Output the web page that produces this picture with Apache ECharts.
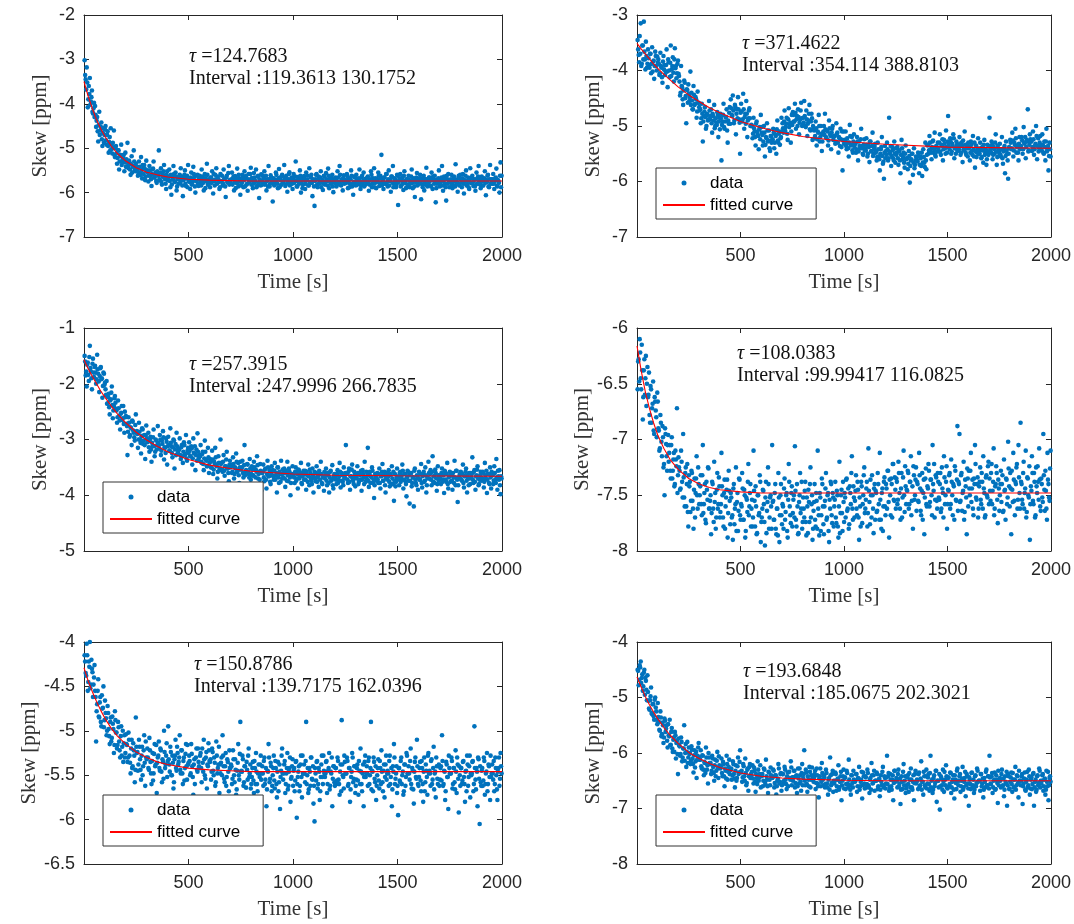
<!DOCTYPE html>
<html><head><meta charset="utf-8">
<script src="https://cdn.jsdelivr.net/npm/echarts@6/dist/echarts.min.js"></script>
<style>html,body{margin:0;padding:0;background:#fff}#c{width:1074px;height:924px}</style>
</head><body><div id="c"></div>
<script>
// sampling of the skew series: set A one value every DT s from T0, set B every DT s from T0B
const T0 = 3, T0B = 5.5, DT = 5;

const skew1 = [
-3.02,-3.45,-3.18,-4.08,-3.60,-3.42,-3.95,-3.70,-4.22,-3.98,
-4.05,-4.52,-4.30,-4.85,-4.18,-4.60,-4.42,-4.95,-4.55,-4.70,
-4.50,-4.92,-4.62,-5.10,-4.75,-4.55,-5.02,-4.88,-4.60,-5.20,
-4.95,-5.35,-5.05,-5.48,-5.15,-4.92,-5.30,-5.22,-5.52,-5.10,
-5.25,-4.88,-5.45,-5.32,-5.60,-5.18,-5.40,-5.05,-5.50,-5.35,
-5.42,-5.62,-5.30,-5.55,-5.20,-5.68,-5.45,-5.38,-5.72,-5.28,
-5.50,-5.75,-5.40,-5.62,-5.85,-5.48,-5.30,-5.66,-5.55,-5.78,
-5.58,-5.05,-5.72,-5.45,-5.82,-5.60,-5.38,-5.70,-5.92,-5.52,
-5.65,-5.48,-5.88,-6.05,-5.62,-5.40,-5.75,-5.55,-5.95,-5.70,
-5.80,-5.60,-5.45,-5.72,-6.08,-5.66,-5.50,-5.85,-5.62,-5.38,
-5.70,-5.92,-5.55,-5.78,-5.42,-5.65,-6.00,-5.74,-5.60,-5.85,
-5.62,-5.80,-5.48,-5.72,-5.95,-5.58,-5.68,-5.35,-5.82,-5.76,
-5.88,-5.66,-5.52,-6.02,-5.74,-5.60,-5.45,-5.79,-5.70,-5.92,
-5.58,-5.75,-5.84,-5.48,-5.69,-6.10,-5.62,-5.77,-5.40,-5.72,
-5.80,-5.55,-5.70,-5.95,-5.63,-5.78,-5.46,-5.86,-5.68,-6.05,
-5.74,-5.60,-5.88,-5.52,-5.66,-5.82,-5.96,-5.58,-5.71,-5.44,
-5.67,-5.90,-5.56,-5.76,-5.48,-5.84,-5.62,-6.12,-5.73,-5.59,
-5.82,-5.64,-5.52,-5.78,-5.95,-5.70,-5.40,-5.86,-5.61,-5.75,
-6.20,-5.68,-5.80,-5.55,-5.72,-5.90,-5.47,-5.66,-5.83,-5.60,
-5.76,-5.38,-5.85,-5.62,-5.98,-5.70,-5.54,-5.80,-5.66,-5.92,
-5.58,-5.74,-5.30,-5.86,-5.65,-5.78,-5.50,-6.00,-5.69,-5.82,
-5.63,-5.92,-5.55,-5.71,-5.84,-5.45,-5.77,-5.60,-6.08,-5.72,
-6.30,-5.70,-5.58,-5.88,-5.64,-5.80,-5.52,-5.75,-5.94,-5.62,
-5.82,-5.56,-5.74,-5.46,-5.90,-5.68,-5.79,-5.60,-5.99,-5.72,
-5.66,-5.86,-5.52,-5.76,-5.40,-5.83,-5.70,-5.95,-5.61,-5.78,
-5.74,-5.58,-5.90,-5.68,-5.80,-5.50,-5.86,-6.05,-5.64,-5.76,
-5.60,-5.82,-5.70,-5.48,-5.92,-5.66,-5.78,-5.55,-5.84,-5.69,
-5.80,-5.64,-5.96,-5.72,-5.52,-5.88,-5.68,-5.45,-5.78,-5.90,
-5.70,-5.55,-5.85,-5.62,-5.15,-5.76,-5.92,-5.66,-5.80,-5.58,
-5.86,-5.50,-5.74,-5.98,-5.64,-5.40,-5.80,-5.70,-5.88,-5.60,
-6.28,-5.72,-5.58,-5.84,-5.66,-5.94,-5.52,-5.78,-5.70,-5.85,
-5.62,-5.88,-5.76,-5.48,-5.90,-5.68,-6.10,-5.74,-5.56,-5.82,
-5.74,-5.60,-6.15,-5.82,-5.66,-5.95,-5.70,-5.44,-5.86,-5.78,
-5.66,-5.84,-5.55,-5.92,-5.72,-5.62,-6.22,-5.80,-5.70,-5.50,
-5.86,-5.72,-5.40,-5.96,-5.64,-5.80,-6.18,-5.70,-5.58,-5.88,
-5.74,-5.60,-5.90,-5.68,-5.84,-5.36,-5.76,-5.98,-5.62,-5.80,
-5.70,-5.88,-5.58,-6.02,-5.74,-5.50,-5.82,-5.66,-5.92,-5.45,
-5.78,-5.62,-5.85,-5.70,-5.96,-5.55,-5.80,-5.40,-5.72,-5.90,
-5.64,-5.84,-5.72,-5.52,-6.06,-5.76,-5.60,-5.88,-5.38,-5.70,
-5.80,-5.58,-5.92,-5.68,-5.46,-5.86,-5.74,-6.00,-5.32,-5.62
];
const skew1b = [
-3.35,-3.68,-3.52,-3.90,-3.78,-4.02,-3.85,-4.18,-4.10,-4.30,
-4.25,-4.38,-4.62,-4.48,-4.70,-4.52,-4.80,-4.66,-4.88,-4.58,
-4.82,-4.70,-4.95,-4.86,-5.05,-4.92,-5.12,-4.98,-5.15,-5.00,
-5.12,-5.22,-5.05,-5.30,-5.18,-5.38,-5.25,-5.15,-5.32,-5.42,
-5.32,-5.40,-5.28,-5.48,-5.36,-5.55,-5.42,-5.30,-5.52,-5.45,
-5.48,-5.56,-5.42,-5.60,-5.50,-5.38,-5.58,-5.46,-5.64,-5.52,
-5.55,-5.62,-5.50,-5.70,-5.58,-5.46,-5.66,-5.60,-5.74,-5.52,
-5.62,-5.70,-5.55,-5.76,-5.64,-5.52,-5.68,-5.80,-5.60,-5.72,
-5.66,-5.74,-5.60,-5.82,-5.70,-5.58,-5.76,-5.64,-5.86,-5.68,
-5.70,-5.78,-5.64,-5.84,-5.72,-5.60,-5.80,-5.68,-5.88,-5.74,
-5.76,-5.66,-5.82,-5.70,-5.58,-5.86,-5.74,-5.62,-5.80,-5.69,
-5.72,-5.84,-5.64,-5.78,-5.68,-5.90,-5.75,-5.60,-5.82,-5.70,
-5.66,-5.78,-5.72,-5.58,-5.84,-5.70,-5.80,-5.64,-5.76,-5.88,
-5.74,-5.62,-5.80,-5.70,-5.86,-5.66,-5.76,-5.56,-5.82,-5.72,
-5.70,-5.82,-5.64,-5.76,-5.90,-5.68,-5.78,-5.60,-5.74,-5.84,
-5.78,-5.66,-5.72,-5.86,-5.62,-5.80,-5.70,-5.76,-5.58,-5.82,
-5.72,-5.80,-5.66,-5.74,-5.88,-5.64,-5.78,-5.70,-5.84,-5.60,
-5.76,-5.68,-5.82,-5.62,-5.74,-5.86,-5.70,-5.80,-5.66,-5.78,
-5.70,-5.84,-5.74,-5.60,-5.80,-5.68,-5.88,-5.72,-5.64,-5.78,
-5.74,-5.66,-5.82,-5.70,-5.78,-5.58,-5.84,-5.72,-5.80,-5.68,
-5.78,-5.64,-5.74,-5.86,-5.70,-5.80,-5.62,-5.76,-5.90,-5.72,
-5.68,-5.80,-5.72,-5.62,-5.84,-5.76,-5.66,-5.78,-5.70,-5.86,
-5.74,-5.60,-5.82,-5.70,-5.78,-5.66,-5.88,-5.72,-5.80,-5.64,
-5.76,-5.70,-5.84,-5.62,-5.74,-5.80,-5.68,-5.86,-5.72,-5.78,
-5.70,-5.82,-5.66,-5.76,-5.60,-5.84,-5.74,-5.68,-5.80,-5.72,
-5.78,-5.64,-5.74,-5.88,-5.70,-5.62,-5.80,-5.76,-5.66,-5.84,
-5.72,-5.80,-5.68,-5.76,-5.84,-5.62,-5.74,-5.86,-5.70,-5.78,
-5.66,-5.76,-5.82,-5.70,-5.60,-5.80,-5.74,-5.88,-5.68,-5.76,
-5.74,-5.62,-5.78,-5.68,-5.84,-5.72,-5.66,-5.80,-5.58,-5.76,
-5.70,-5.84,-5.72,-5.64,-5.78,-5.88,-5.68,-5.76,-5.82,-5.62,
-5.76,-5.68,-5.86,-5.72,-5.80,-5.62,-5.74,-5.90,-5.70,-5.82,
-5.72,-5.80,-5.64,-5.78,-5.70,-5.86,-5.76,-5.66,-5.84,-5.74,
-5.68,-5.78,-5.72,-5.88,-5.62,-5.76,-5.82,-5.70,-5.80,-5.66,
-5.74,-5.86,-5.70,-5.64,-5.80,-5.72,-5.90,-5.76,-5.68,-5.82,
-5.78,-5.66,-5.84,-5.74,-5.70,-5.88,-5.62,-5.80,-5.72,-5.76,
-5.70,-5.82,-5.76,-5.64,-5.86,-5.72,-5.78,-5.68,-5.84,-5.60,
-5.76,-5.68,-5.80,-5.72,-5.62,-5.84,-5.74,-5.88,-5.70,-5.78,
-5.66,-5.78,-5.72,-5.86,-5.70,-5.80,-5.64,-5.76,-5.82,-5.68,
-5.74,-5.84,-5.68,-5.78,-5.72,-5.62,-5.86,-5.70,-5.80,-5.76,
-5.70,-5.80,-5.74,-5.66,-5.84,-5.72,-5.78,-5.62,-5.88,-5.68
];
const skew2 = [
-3.45,-3.72,-3.38,-3.15,-3.88,-3.55,-3.12,-3.80,-3.48,-3.95,
-3.62,-3.90,-3.70,-4.05,-3.58,-3.84,-4.15,-3.66,-3.92,-3.75,
-3.80,-4.08,-3.68,-3.95,-4.22,-3.74,-3.90,-4.02,-3.62,-4.30,
-3.85,-4.12,-3.55,-3.98,-3.76,-4.20,-3.60,-3.92,-4.05,-3.82,
-4.10,-4.45,-3.92,-4.30,-4.62,-4.18,-4.50,-4.95,-4.35,-4.25,
-4.55,-4.02,-4.40,-4.70,-4.28,-4.62,-4.48,-4.85,-4.38,-4.58,
-4.72,-4.95,-4.60,-5.28,-4.82,-4.66,-5.05,-4.78,-4.90,-4.55,
-4.88,-4.70,-5.12,-4.82,-4.62,-5.00,-4.94,-4.75,-5.20,-4.85,
-4.78,-5.62,-4.92,-4.60,-5.05,-4.84,-4.70,-5.30,-4.96,-4.66,
-4.52,-4.80,-4.45,-4.95,-4.62,-5.15,-4.70,-4.48,-4.88,-5.50,
-4.60,-4.92,-4.42,-5.05,-4.78,-4.55,-5.20,-4.86,-4.68,-5.00,
-4.98,-5.22,-4.85,-5.10,-5.35,-4.92,-5.15,-5.42,-5.02,-4.80,
-5.12,-5.35,-5.00,-5.55,-5.20,-4.95,-5.28,-5.08,-5.45,-5.18,
-5.25,-5.05,-5.40,-5.15,-5.50,-4.90,-5.30,-5.10,-5.22,-4.85,
-4.95,-5.12,-4.72,-5.02,-4.85,-5.25,-4.68,-4.98,-5.30,-4.80,
-4.75,-4.92,-4.60,-5.05,-4.82,-4.70,-5.15,-4.88,-4.58,-5.00,
-4.85,-4.55,-5.00,-4.72,-5.18,-4.90,-4.62,-5.08,-4.78,-5.25,
-5.05,-5.22,-4.92,-5.35,-5.10,-4.80,-5.28,-5.00,-5.45,-5.15,
-5.00,-4.78,-5.20,-5.08,-5.35,-4.90,-5.15,-5.42,-5.05,-5.25,
-5.18,-5.32,-4.95,-5.12,-5.48,-5.22,-5.05,-5.38,-5.80,-5.10,
-5.25,-5.10,-5.42,-5.30,-5.55,-4.98,-5.35,-5.20,-5.48,-5.15,
-5.32,-5.48,-5.20,-5.62,-5.28,-5.40,-5.05,-5.36,-5.52,-5.24,
-5.40,-5.22,-5.55,-5.34,-5.65,-5.28,-5.45,-5.12,-5.50,-5.38,
-5.48,-5.62,-5.30,-5.55,-5.80,-5.42,-5.20,-5.68,-5.95,-5.36,
-5.45,-5.30,-5.62,-4.85,-5.50,-5.72,-5.38,-5.58,-5.28,-5.66,
-5.52,-5.38,-5.70,-5.45,-5.85,-5.25,-5.60,-5.48,-5.75,-5.35,
-5.58,-5.78,-5.45,-6.02,-5.62,-5.50,-5.88,-5.40,-5.70,-5.55,
-5.62,-5.48,-5.85,-5.55,-5.72,-5.90,-5.42,-5.66,-5.30,-5.78,
-5.35,-5.50,-5.18,-5.42,-5.60,-5.28,-5.48,-5.12,-5.55,-5.38,
-5.30,-5.46,-5.15,-5.52,-5.36,-5.62,-5.25,-5.40,-5.08,-5.48,
-4.82,-5.38,-5.22,-5.50,-5.32,-5.15,-5.58,-5.40,-5.28,-5.45,
-5.36,-5.20,-5.52,-5.30,-5.65,-5.42,-5.10,-5.48,-5.34,-5.55,
-5.40,-5.62,-5.28,-5.45,-5.18,-5.55,-5.75,-5.35,-5.48,-5.22,
-5.45,-5.30,-5.58,-5.38,-5.66,-5.25,-5.48,-5.70,-5.34,-5.52,
-4.85,-5.42,-5.28,-5.60,-5.38,-5.50,-5.15,-5.70,-5.35,-5.46,
-5.32,-5.55,-5.20,-5.68,-5.40,-5.85,-5.28,-5.50,-5.95,-5.38,
-5.25,-5.42,-5.12,-5.55,-5.30,-5.05,-5.48,-5.35,-5.62,-5.20,
-5.38,-5.20,-5.50,-5.02,-5.32,-5.58,-5.25,-4.70,-5.44,-5.15,
-5.28,-5.45,-5.10,-5.52,-5.35,-5.00,-5.60,-5.22,-5.40,-5.18,
-5.35,-5.15,-5.48,-5.28,-5.62,-5.05,-5.42,-5.80,-5.30,-5.55
];
const skew2b = [
-3.62,-3.85,-3.70,-3.92,-3.55,-3.80,-3.66,-3.98,-3.74,-3.88,
-3.78,-3.95,-3.70,-3.88,-4.02,-3.82,-3.92,-3.74,-4.00,-3.86,
-3.88,-4.05,-3.92,-4.12,-3.84,-3.98,-4.08,-3.90,-4.02,-3.80,
-4.00,-3.86,-4.10,-3.92,-4.04,-3.80,-3.96,-4.14,-3.88,-4.06,
-4.20,-4.40,-4.28,-4.52,-4.36,-4.22,-4.46,-4.34,-4.58,-4.42,
-4.48,-4.62,-4.54,-4.70,-4.44,-4.60,-4.52,-4.74,-4.58,-4.66,
-4.70,-4.86,-4.78,-4.92,-4.74,-4.84,-5.00,-4.80,-4.88,-4.72,
-4.82,-4.95,-4.78,-4.90,-5.04,-4.86,-4.98,-4.80,-4.92,-5.06,
-4.86,-4.98,-4.80,-5.02,-4.92,-4.84,-5.08,-4.90,-4.76,-4.96,
-4.68,-4.82,-4.72,-4.90,-4.66,-4.78,-4.86,-4.70,-4.94,-4.76,
-4.74,-4.88,-4.70,-4.84,-4.96,-4.78,-4.90,-4.72,-4.86,-5.00,
-5.00,-5.14,-5.04,-5.20,-4.96,-5.10,-5.18,-5.06,-5.24,-5.02,
-5.16,-5.28,-5.12,-5.34,-5.22,-5.08,-5.26,-5.40,-5.18,-5.30,
-5.24,-5.12,-5.30,-5.18,-5.06,-5.26,-5.14,-5.34,-5.20,-5.10,
-5.04,-4.92,-5.08,-4.96,-5.14,-4.88,-5.02,-4.94,-5.10,-4.98,
-4.80,-4.92,-4.76,-4.88,-5.00,-4.84,-4.94,-4.72,-4.86,-4.98,
-4.94,-4.82,-5.02,-4.88,-4.96,-4.78,-5.06,-4.92,-4.86,-5.00,
-5.08,-5.18,-5.04,-5.24,-5.12,-5.00,-5.20,-5.14,-5.28,-5.10,
-5.16,-5.06,-5.22,-5.10,-5.26,-5.04,-5.18,-5.12,-5.00,-5.20,
-5.18,-5.28,-5.14,-5.30,-5.20,-5.36,-5.24,-5.10,-5.26,-5.32,
-5.26,-5.36,-5.22,-5.40,-5.30,-5.18,-5.34,-5.44,-5.28,-5.38,
-5.32,-5.42,-5.28,-5.46,-5.36,-5.24,-5.40,-5.50,-5.34,-5.44,
-5.44,-5.34,-5.50,-5.38,-5.28,-5.46,-5.36,-5.54,-5.42,-5.32,
-5.46,-5.56,-5.42,-5.60,-5.50,-5.38,-5.54,-5.64,-5.48,-5.58,
-5.52,-5.42,-5.58,-5.46,-5.36,-5.54,-5.44,-5.62,-5.50,-5.40,
-5.48,-5.58,-5.44,-5.62,-5.52,-5.40,-5.56,-5.66,-5.50,-5.60,
-5.58,-5.68,-5.54,-5.72,-5.60,-5.50,-5.66,-5.76,-5.62,-5.56,
-5.64,-5.54,-5.70,-5.58,-5.48,-5.66,-5.56,-5.74,-5.62,-5.52,
-5.34,-5.44,-5.30,-5.48,-5.38,-5.26,-5.42,-5.52,-5.36,-5.46,
-5.40,-5.30,-5.46,-5.34,-5.24,-5.42,-5.32,-5.50,-5.38,-5.28,
-5.32,-5.42,-5.28,-5.46,-5.36,-5.22,-5.40,-5.50,-5.34,-5.44,
-5.42,-5.32,-5.48,-5.36,-5.26,-5.44,-5.34,-5.52,-5.40,-5.30,
-5.38,-5.48,-5.34,-5.52,-5.42,-5.30,-5.46,-5.56,-5.40,-5.50,
-5.50,-5.40,-5.56,-5.44,-5.34,-5.52,-5.42,-5.60,-5.46,-5.36,
-5.38,-5.48,-5.34,-5.52,-5.42,-5.30,-5.46,-5.56,-5.40,-5.50,
-5.52,-5.42,-5.58,-5.46,-5.36,-5.54,-5.44,-5.62,-5.50,-5.40,
-5.30,-5.40,-5.26,-5.44,-5.34,-5.22,-5.38,-5.48,-5.32,-5.42,
-5.36,-5.26,-5.42,-5.30,-5.20,-5.38,-5.28,-5.46,-5.34,-5.24,
-5.28,-5.38,-5.24,-5.42,-5.32,-5.18,-5.36,-5.46,-5.30,-5.40,
-5.44,-5.34,-5.50,-5.38,-5.28,-5.46,-5.36,-5.54,-5.42,-5.32
];
const skew3 = [
-1.50,-1.85,-2.05,-1.62,-1.95,-1.32,-1.78,-2.10,-1.55,-1.88,
-1.68,-2.00,-1.48,-1.82,-2.15,-1.72,-1.92,-2.25,-1.80,-2.02,
-2.10,-1.95,-2.35,-2.18,-2.55,-2.28,-2.05,-2.62,-2.40,-2.22,
-2.45,-2.70,-2.30,-2.58,-2.82,-2.52,-2.65,-2.40,-2.88,-2.60,
-2.72,-3.28,-2.60,-2.95,-2.78,-3.10,-2.68,-2.88,-3.02,-2.55,
-2.85,-3.15,-2.70,-3.00,-3.25,-2.80,-3.08,-2.92,-3.35,-2.75,
-3.05,-2.88,-3.22,-2.95,-3.40,-3.12,-2.82,-3.30,-3.00,-3.18,
-2.76,-3.10,-2.92,-3.28,-3.02,-2.85,-3.36,-3.15,-2.98,-3.45,
-2.95,-3.20,-2.80,-3.12,-3.32,-3.00,-3.52,-3.08,-2.88,-3.25,
-3.18,-2.98,-3.35,-3.10,-3.42,-3.05,-3.28,-2.92,-3.38,-3.15,
-3.05,-3.30,-3.12,-3.45,-2.98,-3.25,-3.55,-3.18,-2.89,-3.35,
-3.28,-3.10,-3.42,-3.22,-3.55,-3.02,-3.36,-3.48,-3.15,-3.60,
-3.35,-3.50,-3.20,-3.62,-3.40,-3.15,-3.45,-3.70,-3.30,-3.55,
-3.00,-3.42,-3.58,-3.28,-3.65,-3.48,-3.22,-3.52,-3.75,-3.38,
-3.45,-3.60,-3.32,-3.70,-3.50,-3.25,-3.58,-3.42,-3.78,-3.40,
-3.52,-3.38,-3.68,-3.10,-3.58,-3.82,-3.45,-3.62,-3.35,-3.72,
-3.48,-3.65,-3.40,-3.85,-3.55,-3.30,-3.70,-3.58,-3.44,-3.92,
-3.60,-3.45,-3.75,-3.52,-3.88,-3.38,-3.66,-3.55,-3.80,-3.48,
-3.55,-3.72,-3.42,-3.65,-3.95,-3.50,-3.78,-3.62,-3.38,-3.70,
-3.68,-3.52,-3.85,-3.60,-3.40,-3.75,-3.58,-4.00,-3.65,-3.48,
-3.62,-3.78,-3.50,-3.70,-3.88,-3.55,-3.66,-3.42,-3.80,-3.60,
-3.72,-3.56,-3.90,-3.64,-3.45,-3.82,-3.60,-3.74,-3.52,-3.95,
-3.58,-3.75,-3.48,-3.68,-3.85,-3.62,-3.40,-3.78,-3.66,-3.92,
-3.70,-3.52,-3.82,-3.64,-3.95,-3.58,-3.74,-3.46,-3.88,-3.62,
-3.66,-3.80,-3.55,-3.72,-3.42,-3.86,-3.60,-3.76,-3.50,-3.68,
-3.10,-3.62,-3.78,-3.52,-3.90,-3.66,-3.45,-3.74,-3.58,-3.84,
-3.64,-3.48,-3.80,-3.60,-3.72,-3.92,-3.55,-3.68,-3.40,-3.76,
-3.70,-3.15,-3.85,-3.58,-3.66,-3.50,-3.78,-4.05,-3.62,-3.74,
-3.60,-3.78,-3.52,-3.88,-3.66,-3.44,-3.74,-3.58,-3.95,-3.68,
-3.72,-3.55,-3.84,-3.64,-3.48,-3.80,-4.10,-3.62,-3.76,-3.52,
-3.66,-3.82,-3.58,-3.70,-3.45,-3.88,-3.62,-3.75,-4.02,-3.56,
-3.74,-4.15,-3.60,-3.84,-3.68,-4.20,-3.52,-3.78,-3.64,-3.90,
-3.58,-3.72,-3.44,-3.86,-3.62,-3.76,-3.50,-3.95,-3.68,-3.40,
-3.70,-3.55,-3.82,-3.30,-3.66,-3.78,-3.60,-3.92,-3.48,-3.74,
-3.64,-3.80,-3.52,-3.72,-3.96,-3.58,-3.76,-3.42,-3.88,-3.66,
-3.76,-3.60,-3.90,-3.68,-3.38,-3.82,-3.56,-4.12,-3.70,-3.62,
-3.58,-3.74,-3.45,-3.86,-3.66,-3.52,-3.95,-3.70,-3.60,-3.80,
-3.68,-3.32,-3.78,-3.55,-3.90,-3.64,-3.48,-3.82,-3.72,-3.58,
-3.74,-3.58,-3.86,-3.42,-3.70,-3.96,-3.62,-3.78,-3.50,-3.88,
-3.62,-3.80,-3.48,-3.72,-3.35,-3.90,-3.66,-3.55,-3.98,-3.70
];
const skew3b = [
-1.60,-1.78,-1.66,-1.84,-1.52,-1.72,-1.90,-1.64,-1.80,-1.70,
-1.80,-1.92,-1.74,-1.96,-1.86,-1.70,-1.90,-2.04,-1.82,-1.98,
-2.20,-2.36,-2.24,-2.42,-2.30,-2.16,-2.38,-2.48,-2.26,-2.34,
-2.48,-2.60,-2.44,-2.66,-2.54,-2.40,-2.62,-2.72,-2.50,-2.58,
-2.76,-2.86,-2.70,-2.92,-2.80,-2.66,-2.84,-2.96,-2.74,-2.88,
-2.90,-3.00,-2.86,-3.06,-2.94,-2.82,-3.02,-3.10,-2.92,-2.98,
-3.04,-3.14,-3.00,-3.18,-3.06,-2.96,-3.12,-3.22,-3.02,-3.10,
-3.06,-3.16,-3.00,-3.20,-3.08,-2.96,-3.14,-3.24,-3.04,-3.12,
-3.10,-3.20,-3.06,-3.24,-3.14,-3.02,-3.18,-3.28,-3.12,-3.22,
-3.18,-3.28,-3.14,-3.30,-3.22,-3.10,-3.26,-3.34,-3.20,-3.24,
-3.20,-3.30,-3.16,-3.34,-3.24,-3.12,-3.28,-3.38,-3.22,-3.32,
-3.30,-3.40,-3.26,-3.44,-3.34,-3.22,-3.38,-3.48,-3.32,-3.42,
-3.40,-3.50,-3.36,-3.54,-3.44,-3.32,-3.48,-3.58,-3.42,-3.52,
-3.44,-3.54,-3.40,-3.56,-3.48,-3.36,-3.52,-3.60,-3.46,-3.50,
-3.48,-3.58,-3.44,-3.62,-3.52,-3.40,-3.56,-3.64,-3.50,-3.54,
-3.50,-3.60,-3.46,-3.64,-3.55,-3.44,-3.58,-3.68,-3.52,-3.62,
-3.54,-3.64,-3.50,-3.68,-3.58,-3.46,-3.62,-3.72,-3.56,-3.60,
-3.58,-3.68,-3.54,-3.72,-3.62,-3.50,-3.66,-3.76,-3.60,-3.64,
-3.66,-3.56,-3.72,-3.60,-3.50,-3.68,-3.58,-3.76,-3.62,-3.54,
-3.60,-3.70,-3.56,-3.74,-3.64,-3.52,-3.68,-3.78,-3.62,-3.66,
-3.68,-3.58,-3.74,-3.62,-3.54,-3.70,-3.60,-3.78,-3.66,-3.56,
-3.62,-3.72,-3.58,-3.76,-3.66,-3.54,-3.70,-3.80,-3.64,-3.68,
-3.70,-3.60,-3.76,-3.64,-3.56,-3.72,-3.62,-3.80,-3.68,-3.58,
-3.64,-3.74,-3.60,-3.78,-3.68,-3.56,-3.72,-3.82,-3.66,-3.70,
-3.72,-3.62,-3.78,-3.66,-3.58,-3.74,-3.64,-3.82,-3.70,-3.60,
-3.62,-3.72,-3.58,-3.76,-3.66,-3.54,-3.70,-3.80,-3.64,-3.68,
-3.70,-3.60,-3.76,-3.64,-3.56,-3.72,-3.62,-3.80,-3.68,-3.58,
-3.64,-3.74,-3.60,-3.78,-3.68,-3.56,-3.72,-3.82,-3.66,-3.70,
-3.72,-3.62,-3.78,-3.66,-3.58,-3.74,-3.64,-3.82,-3.70,-3.60,
-3.66,-3.76,-3.62,-3.80,-3.70,-3.58,-3.74,-3.84,-3.68,-3.72,
-3.70,-3.60,-3.76,-3.64,-3.56,-3.72,-3.62,-3.80,-3.68,-3.58,
-3.64,-3.74,-3.60,-3.78,-3.68,-3.56,-3.72,-3.82,-3.66,-3.70,
-3.72,-3.62,-3.78,-3.66,-3.58,-3.74,-3.64,-3.82,-3.70,-3.60,
-3.62,-3.72,-3.58,-3.76,-3.66,-3.54,-3.70,-3.80,-3.64,-3.68,
-3.70,-3.60,-3.76,-3.64,-3.56,-3.72,-3.62,-3.80,-3.68,-3.58,
-3.64,-3.74,-3.60,-3.78,-3.68,-3.56,-3.72,-3.82,-3.66,-3.70,
-3.72,-3.62,-3.78,-3.66,-3.58,-3.74,-3.64,-3.82,-3.70,-3.60,
-3.62,-3.72,-3.58,-3.76,-3.66,-3.54,-3.70,-3.80,-3.64,-3.68,
-3.70,-3.60,-3.76,-3.64,-3.56,-3.72,-3.62,-3.80,-3.68,-3.58,
-3.64,-3.74,-3.60,-3.78,-3.68,-3.56,-3.72,-3.82,-3.66,-3.70
];
const skew4 = [
-6.55,-6.28,-6.10,-6.45,-6.15,-6.82,-6.38,-6.60,-6.25,-6.50,
-6.62,-6.40,-6.85,-6.55,-6.72,-6.48,-6.95,-6.66,-6.80,-6.58,
-6.90,-7.10,-6.78,-7.02,-6.88,-7.25,-7.50,-6.95,-7.15,-7.05,
-7.20,-7.05,-7.35,-6.98,-7.28,-7.12,-7.40,-7.18,-6.72,-7.32,
-7.25,-7.45,-7.10,-7.38,-6.95,-7.52,-7.30,-7.60,-7.22,-7.78,
-7.42,-7.65,-7.28,-7.55,-7.80,-7.35,-7.48,-7.15,-7.62,-7.40,
-7.50,-7.32,-7.68,-7.05,-7.58,-7.40,-7.75,-7.45,-7.25,-7.62,
-7.55,-7.85,-7.38,-7.62,-7.20,-7.48,-7.70,-7.30,-7.58,-7.42,
-7.65,-7.12,-7.50,-7.78,-7.36,-7.60,-7.45,-7.88,-7.28,-7.55,
-7.48,-7.70,-7.90,-7.40,-7.62,-7.25,-7.56,-7.82,-7.35,-7.68,
-7.58,-7.30,-7.72,-7.45,-7.88,-7.52,-7.65,-7.22,-7.60,-7.40,
-7.62,-7.78,-7.10,-7.55,-7.42,-7.85,-7.50,-7.68,-7.32,-7.92,
-7.70,-7.45,-7.58,-7.95,-7.38,-7.64,-7.25,-7.80,-7.52,-7.60,
-7.05,-7.55,-7.72,-7.40,-7.85,-7.62,-7.30,-7.92,-7.50,-7.68,
-7.58,-7.80,-7.35,-7.65,-7.48,-7.88,-7.22,-7.60,-7.75,-7.42,
-7.66,-7.50,-7.06,-7.72,-7.40,-7.85,-7.56,-7.30,-7.62,-7.80,
-7.52,-7.70,-7.38,-7.86,-7.60,-7.45,-7.74,-7.25,-7.58,-7.90,
-7.64,-7.40,-7.78,-7.55,-7.10,-7.68,-7.48,-7.82,-7.35,-7.60,
-7.85,-7.55,-7.30,-7.70,-7.48,-7.92,-7.62,-7.40,-7.75,-7.52,
-7.60,-7.38,-7.75,-7.50,-7.88,-7.20,-7.66,-7.45,-7.82,-7.56,
-7.48,-7.70,-7.35,-7.62,-7.80,-7.42,-7.58,-7.15,-7.72,-7.52,
-7.55,-7.32,-7.68,-7.45,-7.90,-7.60,-7.38,-7.75,-7.50,-7.25,
-7.62,-7.44,-7.78,-7.08,-7.56,-7.36,-7.70,-7.50,-7.84,-7.40,
-7.46,-7.65,-7.30,-7.58,-7.12,-7.72,-7.48,-7.82,-7.38,-7.60,
-7.40,-7.62,-7.28,-7.88,-7.50,-7.35,-7.70,-7.22,-7.55,-7.45,
-7.35,-7.58,-7.20,-7.48,-7.72,-7.30,-7.52,-7.10,-7.65,-7.42,
-7.45,-7.28,-7.62,-7.38,-7.15,-7.55,-7.80,-7.32,-7.50,-7.25,
-7.38,-7.55,-7.12,-7.44,-7.68,-7.30,-7.48,-7.85,-7.35,-7.58,
-7.42,-7.22,-7.60,-7.36,-7.50,-7.05,-7.46,-7.70,-7.32,-7.55,
-7.30,-7.52,-7.40,-7.65,-7.25,-7.48,-7.15,-7.58,-7.38,-7.80,
-7.45,-7.32,-7.62,-7.18,-7.50,-7.40,-7.72,-7.28,-7.55,-6.88,
-7.38,-6.95,-7.55,-7.30,-7.48,-7.20,-7.65,-7.42,-7.85,-7.35,
-7.28,-7.50,-7.12,-7.44,-7.62,-7.35,-7.05,-7.52,-7.40,-7.70,
-7.42,-7.25,-7.58,-7.38,-7.15,-7.48,-7.68,-7.32,-7.52,-7.20,
-7.35,-7.55,-7.22,-7.46,-7.08,-7.62,-7.40,-7.30,-7.75,-7.44,
-7.50,-7.28,-7.40,-7.65,-7.18,-7.45,-7.35,-7.58,-7.02,-7.42,
-7.30,-7.85,-7.45,-7.12,-7.55,-7.38,-7.25,-7.62,-7.05,-7.48,
-6.85,-7.40,-7.58,-7.20,-7.48,-7.10,-7.65,-7.35,-7.52,-7.90,
-7.42,-7.15,-7.55,-7.30,-7.70,-7.25,-7.48,-7.38,-7.08,-7.60,
-7.35,-7.52,-6.95,-7.45,-7.28,-7.62,-7.12,-7.40,-7.55,-7.10
];
const skew4b = [
-6.30,-6.48,-6.22,-6.55,-6.38,-6.62,-6.28,-6.45,-6.70,-6.35,
-6.60,-6.78,-6.52,-6.85,-6.68,-6.92,-6.62,-6.74,-6.98,-6.66,
-6.92,-7.08,-6.85,-7.15,-6.98,-7.22,-6.90,-7.04,-7.28,-6.96,
-7.12,-7.28,-7.05,-7.35,-7.18,-7.42,-7.10,-7.24,-7.48,-7.16,
-7.28,-7.44,-7.20,-7.52,-7.34,-7.60,-7.25,-7.40,-7.65,-7.32,
-7.38,-7.55,-7.30,-7.62,-7.45,-7.70,-7.35,-7.50,-7.25,-7.58,
-7.42,-7.58,-7.32,-7.66,-7.48,-7.72,-7.38,-7.54,-7.26,-7.62,
-7.50,-7.66,-7.40,-7.74,-7.56,-7.80,-7.45,-7.62,-7.34,-7.70,
-7.58,-7.42,-7.70,-7.48,-7.80,-7.52,-7.36,-7.66,-7.46,-7.76,
-7.52,-7.68,-7.44,-7.76,-7.58,-7.82,-7.48,-7.64,-7.36,-7.72,
-7.60,-7.44,-7.72,-7.50,-7.82,-7.54,-7.38,-7.68,-7.48,-7.78,
-7.54,-7.70,-7.46,-7.78,-7.60,-7.84,-7.50,-7.66,-7.38,-7.74,
-7.62,-7.46,-7.74,-7.52,-7.84,-7.56,-7.40,-7.70,-7.50,-7.80,
-7.56,-7.72,-7.48,-7.80,-7.62,-7.86,-7.52,-7.68,-7.40,-7.76,
-7.60,-7.44,-7.72,-7.50,-7.82,-7.54,-7.38,-7.68,-7.48,-7.78,
-7.54,-7.70,-7.46,-7.78,-7.60,-7.84,-7.50,-7.66,-7.38,-7.74,
-7.62,-7.46,-7.74,-7.52,-7.84,-7.56,-7.40,-7.70,-7.50,-7.80,
-7.56,-7.72,-7.48,-7.80,-7.62,-7.86,-7.52,-7.68,-7.40,-7.76,
-7.60,-7.44,-7.72,-7.50,-7.82,-7.54,-7.38,-7.68,-7.48,-7.78,
-7.54,-7.70,-7.46,-7.78,-7.60,-7.84,-7.50,-7.66,-7.38,-7.74,
-7.52,-7.36,-7.64,-7.44,-7.76,-7.48,-7.30,-7.62,-7.42,-7.70,
-7.46,-7.62,-7.38,-7.70,-7.52,-7.78,-7.42,-7.58,-7.32,-7.66,
-7.54,-7.38,-7.66,-7.46,-7.76,-7.50,-7.32,-7.62,-7.44,-7.72,
-7.48,-7.64,-7.40,-7.72,-7.54,-7.80,-7.44,-7.60,-7.34,-7.68,
-7.44,-7.28,-7.56,-7.36,-7.68,-7.40,-7.22,-7.54,-7.34,-7.62,
-7.38,-7.54,-7.30,-7.62,-7.44,-7.70,-7.34,-7.50,-7.24,-7.58,
-7.46,-7.30,-7.58,-7.38,-7.68,-7.42,-7.24,-7.54,-7.36,-7.64,
-7.40,-7.56,-7.32,-7.64,-7.46,-7.72,-7.36,-7.52,-7.26,-7.60,
-7.44,-7.28,-7.56,-7.36,-7.68,-7.40,-7.22,-7.54,-7.34,-7.62,
-7.38,-7.54,-7.30,-7.62,-7.44,-7.70,-7.34,-7.50,-7.24,-7.58,
-7.46,-7.30,-7.58,-7.38,-7.68,-7.42,-7.24,-7.54,-7.36,-7.64,
-7.40,-7.56,-7.32,-7.64,-7.46,-7.72,-7.36,-7.52,-7.26,-7.60,
-7.44,-7.28,-7.56,-7.36,-7.68,-7.40,-7.22,-7.54,-7.34,-7.62,
-7.38,-7.54,-7.30,-7.62,-7.44,-7.70,-7.34,-7.50,-7.24,-7.58,
-7.46,-7.30,-7.58,-7.38,-7.68,-7.42,-7.24,-7.54,-7.36,-7.64,
-7.40,-7.56,-7.32,-7.64,-7.46,-7.72,-7.36,-7.52,-7.26,-7.60,
-7.44,-7.28,-7.56,-7.36,-7.68,-7.40,-7.22,-7.54,-7.34,-7.62,
-7.38,-7.54,-7.30,-7.62,-7.44,-7.70,-7.34,-7.50,-7.24,-7.58,
-7.46,-7.30,-7.58,-7.38,-7.68,-7.42,-7.24,-7.54,-7.36,-7.64,
-7.40,-7.56,-7.32,-7.64,-7.46,-7.72,-7.36,-7.52,-7.26,-7.60
];
const skew5 = [
-4.15,-4.35,-4.02,-4.55,-4.22,-4.00,-4.48,-4.30,-4.62,-4.40,
-4.55,-5.12,-4.70,-4.42,-4.85,-4.62,-4.95,-4.75,-4.50,-4.88,
-4.80,-5.05,-4.72,-4.98,-5.15,-4.85,-5.08,-4.92,-5.25,-4.78,
-5.02,-5.20,-4.90,-5.12,-5.30,-4.95,-5.18,-5.35,-5.05,-5.25,
-5.15,-5.35,-5.02,-5.28,-5.48,-5.10,-5.40,-5.22,-5.58,-4.85,
-5.25,-5.45,-5.10,-5.32,-5.55,-5.18,-5.40,-5.05,-5.62,-5.30,
-5.20,-5.42,-5.08,-5.35,-5.60,-5.25,-5.48,-5.15,-5.38,-5.70,
-5.30,-5.12,-5.45,-5.22,-5.58,-5.35,-5.00,-5.42,-5.28,-5.52,
-4.95,-5.38,-5.18,-5.50,-5.28,-5.65,-5.32,-5.10,-5.45,-5.25,
-5.35,-5.05,-5.48,-5.22,-5.60,-5.30,-5.42,-5.15,-5.55,-5.38,
-5.28,-5.50,-5.15,-5.40,-5.72,-5.32,-5.90,-5.20,-5.46,-5.35,
-5.42,-5.25,-5.58,-5.36,-5.10,-5.50,-5.30,-5.65,-5.40,-5.22,
-5.35,-5.55,-5.20,-5.45,-5.30,-5.62,-5.12,-5.48,-5.38,-5.70,
-5.48,-5.30,-5.05,-5.40,-5.58,-5.25,-5.52,-5.35,-5.68,-5.42,
-5.38,-5.60,-5.22,-5.50,-5.32,-5.72,-5.45,-5.15,-5.55,-4.90,
-5.45,-5.28,-5.62,-5.40,-5.78,-5.35,-5.55,-5.20,-5.48,-5.65,
-5.52,-5.35,-5.70,-5.42,-5.25,-5.60,-5.48,-5.82,-5.38,-5.55,
-5.40,-5.62,-5.30,-5.55,-5.85,-5.45,-5.15,-5.58,-5.36,-5.68,
-5.50,-5.28,-5.65,-5.42,-5.75,-5.35,-5.58,-5.88,-5.45,-5.20,
-5.55,-5.38,-5.70,-5.48,-5.25,-5.62,-5.42,-5.80,-5.52,-5.32,
-5.45,-5.68,-5.35,-5.98,-5.52,-5.40,-5.62,-5.28,-5.75,-5.48,
-5.38,-5.58,-4.90,-5.50,-5.70,-5.42,-5.62,-5.30,-5.55,-5.82,
-6.02,-5.48,-5.35,-5.65,-5.42,-5.78,-5.52,-5.28,-5.60,-5.45,
-5.52,-5.35,-5.70,-5.45,-5.25,-5.62,-5.48,-5.85,-5.40,-5.58,
-5.42,-5.60,-5.30,-5.55,-5.72,-5.38,-4.88,-5.50,-5.65,-5.35,
-5.48,-5.30,-5.62,-5.42,-5.80,-5.52,-5.25,-5.58,-5.40,-5.70,
-5.55,-5.38,-5.72,-5.45,-5.20,-5.60,-5.48,-5.85,-5.35,-5.52,
-5.40,-5.62,-5.30,-5.50,-4.90,-5.45,-5.68,-5.35,-5.58,-5.78,
-5.50,-5.32,-5.65,-5.42,-5.22,-5.58,-5.45,-5.75,-5.38,-5.55,
-5.45,-5.62,-5.28,-5.52,-5.85,-5.40,-5.15,-5.60,-5.48,-5.70,
-5.95,-5.42,-5.58,-5.30,-5.50,-5.72,-5.38,-5.62,-5.25,-5.48,
-5.40,-5.55,-5.20,-5.65,-5.45,-5.82,-5.35,-5.52,-5.10,-5.60,
-5.52,-5.35,-5.68,-5.42,-5.80,-5.30,-5.58,-5.45,-5.72,-5.25,
-5.45,-5.62,-5.32,-5.55,-5.18,-5.48,-5.75,-5.40,-5.60,-5.38,
-5.55,-5.40,-5.05,-5.62,-5.45,-5.78,-5.35,-5.52,-5.88,-5.42,
-5.48,-5.30,-5.65,-5.42,-5.58,-5.22,-5.70,-5.38,-5.92,-5.50,
-5.42,-5.60,-5.35,-5.52,-5.80,-5.45,-5.28,-5.62,-5.40,-5.75,
-5.50,-5.35,-5.68,-4.95,-5.55,-5.42,-5.85,-5.32,-6.05,-5.58,
-5.45,-5.62,-5.30,-5.72,-5.48,-5.25,-5.60,-5.40,-5.78,-5.52,
-5.38,-5.55,-5.68,-5.30,-5.50,-5.78,-5.42,-5.62,-5.25,-5.48
];
const skew5b = [
-4.22,-4.38,-4.15,-4.45,-4.28,-4.52,-4.20,-4.34,-4.48,-4.26,
-4.62,-4.78,-4.55,-4.84,-4.68,-4.90,-4.60,-4.74,-4.96,-4.66,
-4.86,-5.00,-4.80,-5.06,-4.90,-5.12,-4.84,-4.98,-5.16,-4.88,
-5.02,-5.16,-4.96,-5.22,-5.06,-5.28,-5.00,-5.14,-5.30,-5.04,
-5.16,-5.30,-5.10,-5.36,-5.20,-5.42,-5.14,-5.28,-5.44,-5.18,
-5.24,-5.38,-5.18,-5.44,-5.28,-5.50,-5.22,-5.36,-5.12,-5.32,
-5.30,-5.44,-5.22,-5.48,-5.34,-5.56,-5.26,-5.40,-5.16,-5.36,
-5.28,-5.42,-5.20,-5.46,-5.32,-5.54,-5.24,-5.38,-5.14,-5.34,
-5.32,-5.46,-5.24,-5.50,-5.36,-5.58,-5.28,-5.42,-5.18,-5.38,
-5.30,-5.44,-5.22,-5.48,-5.34,-5.56,-5.26,-5.40,-5.16,-5.36,
-5.34,-5.48,-5.26,-5.52,-5.38,-5.60,-5.30,-5.44,-5.20,-5.40,
-5.28,-5.42,-5.20,-5.46,-5.32,-5.54,-5.24,-5.38,-5.14,-5.34,
-5.32,-5.46,-5.24,-5.50,-5.36,-5.58,-5.28,-5.42,-5.18,-5.38,
-5.36,-5.50,-5.28,-5.54,-5.40,-5.62,-5.32,-5.46,-5.22,-5.42,
-5.40,-5.54,-5.32,-5.58,-5.44,-5.66,-5.36,-5.50,-5.26,-5.46,
-5.46,-5.32,-5.58,-5.40,-5.64,-5.44,-5.28,-5.52,-5.38,-5.60,
-5.42,-5.56,-5.34,-5.60,-5.46,-5.68,-5.38,-5.52,-5.28,-5.48,
-5.48,-5.34,-5.60,-5.42,-5.66,-5.46,-5.30,-5.54,-5.40,-5.62,
-5.42,-5.56,-5.34,-5.60,-5.46,-5.68,-5.38,-5.52,-5.28,-5.48,
-5.48,-5.34,-5.60,-5.42,-5.66,-5.46,-5.30,-5.54,-5.40,-5.62,
-5.42,-5.56,-5.34,-5.60,-5.46,-5.68,-5.38,-5.52,-5.28,-5.48,
-5.48,-5.34,-5.60,-5.42,-5.66,-5.46,-5.30,-5.54,-5.40,-5.62,
-5.42,-5.56,-5.34,-5.60,-5.46,-5.68,-5.38,-5.52,-5.28,-5.48,
-5.48,-5.34,-5.60,-5.42,-5.66,-5.46,-5.30,-5.54,-5.40,-5.62,
-5.42,-5.56,-5.34,-5.60,-5.46,-5.68,-5.38,-5.52,-5.28,-5.48,
-5.48,-5.34,-5.60,-5.42,-5.66,-5.46,-5.30,-5.54,-5.40,-5.62,
-5.42,-5.56,-5.34,-5.60,-5.46,-5.68,-5.38,-5.52,-5.28,-5.48,
-5.48,-5.34,-5.60,-5.42,-5.66,-5.46,-5.30,-5.54,-5.40,-5.62,
-5.42,-5.56,-5.34,-5.60,-5.46,-5.68,-5.38,-5.52,-5.28,-5.48,
-5.48,-5.34,-5.60,-5.42,-5.66,-5.46,-5.30,-5.54,-5.40,-5.62,
-5.42,-5.56,-5.34,-5.60,-5.46,-5.68,-5.38,-5.52,-5.28,-5.48,
-5.48,-5.34,-5.60,-5.42,-5.66,-5.46,-5.30,-5.54,-5.40,-5.62,
-5.42,-5.56,-5.34,-5.60,-5.46,-5.68,-5.38,-5.52,-5.28,-5.48,
-5.48,-5.34,-5.60,-5.42,-5.66,-5.46,-5.30,-5.54,-5.40,-5.62,
-5.42,-5.56,-5.34,-5.60,-5.46,-5.68,-5.38,-5.52,-5.28,-5.48,
-5.48,-5.34,-5.60,-5.42,-5.66,-5.46,-5.30,-5.54,-5.40,-5.62,
-5.42,-5.56,-5.34,-5.60,-5.46,-5.68,-5.38,-5.52,-5.28,-5.48,
-5.48,-5.34,-5.60,-5.42,-5.66,-5.46,-5.30,-5.54,-5.40,-5.62,
-5.42,-5.56,-5.34,-5.60,-5.46,-5.68,-5.38,-5.52,-5.28,-5.48,
-5.48,-5.34,-5.60,-5.42,-5.66,-5.46,-5.30,-5.54,-5.40,-5.62
];
const skew6 = [
-4.50,-4.78,-4.42,-4.35,-4.65,-4.88,-4.55,-4.95,-4.70,-5.05,
-4.90,-5.20,-5.05,-4.82,-5.30,-5.12,-5.40,-5.00,-5.25,-5.48,
-5.35,-5.58,-5.25,-5.70,-5.45,-5.82,-5.38,-5.62,-5.50,-5.90,
-5.68,-5.40,-5.85,-5.55,-5.98,-5.72,-5.62,-6.10,-5.78,-6.38,
-5.85,-6.05,-5.72,-6.15,-5.92,-5.50,-6.00,-6.25,-5.80,-6.08,
-6.02,-6.20,-5.88,-6.10,-6.35,-5.95,-6.15,-6.45,-6.05,-5.82,
-6.12,-5.95,-6.28,-6.05,-6.40,-6.18,-5.90,-6.30,-6.55,-6.08,
-6.20,-6.38,-6.05,-6.25,-6.50,-6.12,-6.32,-5.98,-6.45,-6.22,
-6.28,-6.10,-6.42,-6.20,-6.60,-6.32,-6.05,-6.48,-6.25,-6.38,
-6.30,-6.48,-6.15,-6.38,-6.62,-6.22,-6.45,-6.08,-6.35,-5.95,
-6.35,-6.52,-6.20,-6.42,-6.10,-6.58,-6.30,-6.68,-6.25,-6.45,
-6.40,-6.22,-6.55,-6.32,-6.70,-6.45,-6.15,-6.50,-6.38,-6.62,
-6.42,-6.60,-6.28,-6.52,-6.12,-6.48,-6.72,-6.35,-6.58,-6.40,
-6.45,-6.30,-6.62,-6.40,-6.75,-6.50,-6.20,-6.55,-6.38,-6.68,
-6.38,-6.55,-6.25,-6.48,-6.65,-6.35,-6.80,-6.45,-6.15,-6.58,
-6.50,-6.32,-6.62,-6.42,-6.72,-6.28,-6.55,-6.40,-6.68,-6.20,
-6.45,-5.95,-6.58,-6.35,-6.70,-6.48,-6.25,-6.62,-6.40,-6.82,
-6.52,-6.38,-6.65,-6.28,-6.55,-6.80,-6.42,-6.60,-6.18,-6.48,
-6.40,-6.62,-6.30,-6.55,-6.75,-6.45,-6.08,-6.58,-6.38,-6.70,
-6.55,-6.35,-6.68,-6.48,-6.22,-6.62,-6.42,-6.85,-6.50,-6.30,
-6.45,-6.65,-6.32,-6.55,-6.12,-6.58,-6.75,-6.40,-6.62,-6.48,
-6.52,-6.38,-6.70,-6.45,-6.25,-6.60,-6.48,-6.82,-6.35,-6.55,
-6.42,-6.62,-6.30,-6.58,-6.72,-6.45,-6.18,-6.55,-6.40,-6.68,
-6.50,-6.35,-6.65,-6.48,-6.78,-6.40,-6.58,-6.25,-6.62,-6.45,
-6.55,-6.05,-6.42,-6.68,-6.38,-6.60,-6.48,-6.85,-6.32,-6.52,
-6.45,-6.62,-6.30,-6.55,-6.92,-6.42,-6.65,-6.20,-6.50,-6.72,
-6.58,-6.40,-6.70,-6.48,-6.28,-6.62,-6.52,-6.85,-6.38,-6.55,
-6.48,-6.65,-6.35,-6.58,-6.15,-6.52,-6.75,-6.42,-6.62,-6.30,
-6.55,-6.38,-6.68,-6.05,-6.50,-6.72,-6.45,-6.60,-6.32,-6.88,
-6.50,-6.62,-7.02,-6.42,-6.58,-6.30,-6.70,-6.48,-6.22,-6.62,
-6.45,-6.60,-6.35,-6.72,-6.52,-6.40,-6.82,-6.48,-6.65,-6.28,
-6.58,-6.42,-6.70,-6.50,-6.25,-6.62,-6.45,-6.78,-6.38,-6.55,
-6.95,-6.48,-6.65,-6.35,-6.58,-6.72,-6.42,-6.60,-6.28,-6.52,
-6.50,-6.68,-6.38,-6.55,-6.80,-6.45,-6.62,-6.30,-6.58,-6.42,
-6.05,-6.55,-6.42,-6.72,-6.50,-6.35,-6.65,-6.48,-6.90,-6.58,
-6.45,-6.62,-6.30,-6.58,-6.78,-6.42,-6.55,-6.95,-6.38,-6.65,
-6.52,-6.35,-6.70,-6.48,-6.62,-6.25,-6.58,-6.42,-6.80,-6.50,
-6.58,-6.42,-6.92,-6.55,-6.35,-6.68,-6.48,-6.62,-6.30,-6.75,
-6.48,-6.65,-6.38,-6.95,-6.52,-6.70,-6.42,-6.58,-6.28,-6.62,
-6.55,-6.40,-6.68,-6.48,-6.75,-6.32,-6.60,-6.85,-6.45,-6.52
];
const skew6b = [
-4.52,-4.68,-4.46,-4.74,-4.58,-4.80,-4.50,-4.64,-4.86,-4.60,
-5.06,-5.22,-4.98,-5.28,-5.12,-5.34,-5.04,-5.18,-5.40,-5.10,
-5.44,-5.60,-5.36,-5.66,-5.50,-5.72,-5.42,-5.56,-5.78,-5.48,
-5.70,-5.86,-5.62,-5.92,-5.76,-5.98,-5.68,-5.82,-6.02,-5.74,
-5.88,-6.02,-5.80,-6.08,-5.92,-6.14,-5.84,-5.98,-6.18,-5.90,
-6.00,-6.14,-5.94,-6.20,-6.04,-6.26,-5.98,-6.12,-5.90,-6.08,
-6.12,-6.24,-6.04,-6.30,-6.16,-6.36,-6.08,-6.22,-6.00,-6.18,
-6.18,-6.32,-6.10,-6.36,-6.22,-6.42,-6.14,-6.28,-6.06,-6.24,
-6.24,-6.36,-6.16,-6.42,-6.28,-6.46,-6.20,-6.34,-6.12,-6.30,
-6.28,-6.40,-6.20,-6.46,-6.32,-6.50,-6.24,-6.38,-6.16,-6.34,
-6.32,-6.44,-6.24,-6.50,-6.36,-6.54,-6.28,-6.42,-6.20,-6.38,
-6.34,-6.46,-6.26,-6.52,-6.38,-6.56,-6.30,-6.44,-6.22,-6.40,
-6.38,-6.50,-6.30,-6.56,-6.42,-6.60,-6.34,-6.48,-6.26,-6.44,
-6.44,-6.32,-6.54,-6.40,-6.60,-6.46,-6.28,-6.52,-6.36,-6.58,
-6.38,-6.50,-6.30,-6.56,-6.42,-6.60,-6.34,-6.48,-6.26,-6.44,
-6.44,-6.32,-6.54,-6.40,-6.60,-6.46,-6.28,-6.52,-6.36,-6.58,
-6.38,-6.50,-6.30,-6.56,-6.42,-6.60,-6.34,-6.48,-6.26,-6.44,
-6.44,-6.32,-6.54,-6.40,-6.60,-6.46,-6.28,-6.52,-6.36,-6.58,
-6.44,-6.56,-6.36,-6.62,-6.48,-6.66,-6.40,-6.54,-6.32,-6.50,
-6.50,-6.38,-6.60,-6.46,-6.66,-6.52,-6.34,-6.58,-6.42,-6.64,
-6.44,-6.56,-6.36,-6.62,-6.48,-6.66,-6.40,-6.54,-6.32,-6.50,
-6.50,-6.38,-6.60,-6.46,-6.66,-6.52,-6.34,-6.58,-6.42,-6.64,
-6.44,-6.56,-6.36,-6.62,-6.48,-6.66,-6.40,-6.54,-6.32,-6.50,
-6.50,-6.38,-6.60,-6.46,-6.66,-6.52,-6.34,-6.58,-6.42,-6.64,
-6.44,-6.56,-6.36,-6.62,-6.48,-6.66,-6.40,-6.54,-6.32,-6.50,
-6.50,-6.38,-6.60,-6.46,-6.66,-6.52,-6.34,-6.58,-6.42,-6.64,
-6.44,-6.56,-6.36,-6.62,-6.48,-6.66,-6.40,-6.54,-6.32,-6.50,
-6.50,-6.38,-6.60,-6.46,-6.66,-6.52,-6.34,-6.58,-6.42,-6.64,
-6.44,-6.56,-6.36,-6.62,-6.48,-6.66,-6.40,-6.54,-6.32,-6.50,
-6.50,-6.38,-6.60,-6.46,-6.66,-6.52,-6.34,-6.58,-6.42,-6.64,
-6.44,-6.56,-6.36,-6.62,-6.48,-6.66,-6.40,-6.54,-6.32,-6.50,
-6.50,-6.38,-6.60,-6.46,-6.66,-6.52,-6.34,-6.58,-6.42,-6.64,
-6.44,-6.56,-6.36,-6.62,-6.48,-6.66,-6.40,-6.54,-6.32,-6.50,
-6.50,-6.38,-6.60,-6.46,-6.66,-6.52,-6.34,-6.58,-6.42,-6.64,
-6.44,-6.56,-6.36,-6.62,-6.48,-6.66,-6.40,-6.54,-6.32,-6.50,
-6.50,-6.38,-6.60,-6.46,-6.66,-6.52,-6.34,-6.58,-6.42,-6.64,
-6.44,-6.56,-6.36,-6.62,-6.48,-6.66,-6.40,-6.54,-6.32,-6.50,
-6.50,-6.38,-6.60,-6.46,-6.66,-6.52,-6.34,-6.58,-6.42,-6.64,
-6.44,-6.56,-6.36,-6.62,-6.48,-6.66,-6.40,-6.54,-6.32,-6.50,
-6.50,-6.38,-6.60,-6.46,-6.66,-6.52,-6.34,-6.58,-6.42,-6.64
];

// fitted exponential curves, read at these times
const fitTimes = [0,20,40,60,80,100,130,160,200,250,300,350,400,500,600,700,800,1000,1200,1500,2000];
const fit1 = [-3.50,-3.83,-4.11,-4.36,-4.56,-4.73,-4.95,-5.12,-5.29,-5.44,-5.54,-5.60,-5.65,-5.70,-5.72,-5.73,-5.74,-5.74,-5.74,-5.74,-5.74];
const fit2 = [-3.51,-3.61,-3.70,-3.79,-3.88,-3.96,-4.07,-4.17,-4.30,-4.44,-4.56,-4.67,-4.76,-4.92,-5.03,-5.12,-5.19,-5.28,-5.33,-5.38,-5.40];
const fit3 = [-1.57,-1.73,-1.87,-2.00,-2.13,-2.24,-2.40,-2.54,-2.70,-2.87,-3.01,-3.12,-3.22,-3.36,-3.46,-3.52,-3.57,-3.62,-3.64,-3.65,-3.66];
const fit4 = [-6.16,-6.38,-6.57,-6.72,-6.85,-6.96,-7.08,-7.18,-7.27,-7.35,-7.40,-7.43,-7.45,-7.47,-7.48,-7.48,-7.48,-7.48,-7.48,-7.48,-7.48];
const fit5 = [-4.29,-4.44,-4.56,-4.67,-4.77,-4.86,-4.97,-5.06,-5.15,-5.24,-5.30,-5.35,-5.38,-5.42,-5.44,-5.45,-5.46,-5.46,-5.46,-5.46,-5.46];
const fit6 = [-4.63,-4.81,-4.98,-5.13,-5.26,-5.38,-5.54,-5.68,-5.83,-5.99,-6.10,-6.19,-6.26,-6.36,-6.42,-6.45,-6.47,-6.49,-6.50,-6.50,-6.50];

const tauValues = ['124.7683','371.4622','257.3915','108.0383','150.8786','193.6848'];
const intervalValues = ['119.3613 130.1752','354.114 388.8103','247.9996 266.7835','99.99417 116.0825','139.7175 162.0396','185.0675 202.3021'];

const yMin = [-7,-7,-5,-8,-6.5,-8];
const yMax = [-2,-3,-1,-6,-4,-4];
const yStep = [1,1,1,0.5,0.5,1];
const xMin = 0, xMax = 2000, xStep = 500;
const legendPanels = [1,2,4,5];

// ---- layout (pixels) ----
const gLeft = [84,637,84,637,84,637];
const gTop = [15,15,328,328,642,642];
const gW = [418,419,418,419,418,419];
const gH = [222,222,223,223,222,222];
const annX = [189,742,189,737,194,743];
const annY = [57,44,365,354,665,672];
const legPos = {1:[656,168],2:[103,482],4:[103,795],5:[656,795]};

const skewsA = [skew1,skew2,skew3,skew4,skew5,skew6];
const skewsB = [skew1b,skew2b,skew3b,skew4b,skew5b,skew6b];
const fits = [fit1,fit2,fit3,fit4,fit5,fit6];

const AX = '#262626';
const BLUE = '#0072BD';
const SANS = '"Liberation Sans", Arial, Helvetica, sans-serif';
const SERIF = '"Liberation Serif", "Times New Roman", serif';

const grid = [], xAxis = [], yAxis = [], series = [], legend = [], graphic = [];
for (let i = 0; i < 6; i++) {
  grid.push({left: gLeft[i], top: gTop[i], width: gW[i], height: gH[i], containLabel: false});
  const tick = {show: true, inside: true, length: 5, lineStyle: {color: AX, width: 1}};
  const line = {show: true, onZero: false, lineStyle: {color: AX, width: 1}};
  xAxis.push({
    type: 'value', gridIndex: i, min: xMin, max: xMax, interval: xStep, position: 'bottom',
    axisLine: line, axisTick: tick, splitLine: {show: false},
    axisLabel: {show: true, margin: 10, color: AX, fontSize: 18, fontFamily: SANS,
      formatter: v => (v === 0 ? '' : String(v))},
    name: 'Time [s]', nameLocation: 'middle', nameGap: 35,
    nameTextStyle: {fontFamily: SERIF, fontSize: 21, color: '#333'}
  });
  xAxis.push({
    type: 'value', gridIndex: i, min: xMin, max: xMax, interval: xStep, position: 'top',
    axisLine: line, axisTick: tick, splitLine: {show: false}, axisLabel: {show: false}
  });
  yAxis.push({
    type: 'value', gridIndex: i, min: yMin[i], max: yMax[i], interval: yStep[i], position: 'left',
    axisLine: line, axisTick: tick, splitLine: {show: false},
    axisLabel: {show: true, margin: 9, color: AX, fontSize: 18, fontFamily: SANS},
    name: 'Skew [ppm]', nameLocation: 'middle', nameGap: 33,
    nameTextStyle: {fontFamily: SERIF, fontSize: 21, color: '#333'}
  });
  yAxis.push({
    type: 'value', gridIndex: i, min: yMin[i], max: yMax[i], interval: yStep[i], position: 'right',
    axisLine: line, axisTick: tick, splitLine: {show: false}, axisLabel: {show: false}
  });
  const pts = skewsA[i].map((y, k) => [T0 + k * DT, y])
    .concat(skewsB[i].map((y, k) => [T0B + k * DT, y]));
  series.push({
    type: 'scatter', name: 'data', xAxisIndex: 2 * i, yAxisIndex: 2 * i,
    data: pts, symbol: 'circle', symbolSize: 4.6, itemStyle: {color: BLUE, opacity: 1},
    clip: true, z: 2
  });
  series.push({
    type: 'line', name: 'fitted curve', xAxisIndex: 2 * i, yAxisIndex: 2 * i,
    data: fitTimes.map((t, k) => [t, fits[i][k]]),
    symbol: 'none', smooth: false, lineStyle: {color: '#FF0000', width: 1.1},
    itemStyle: {color: '#FF0000'}, clip: true, z: 3
  });
  graphic.push({
    type: 'text', x: annX[i], y: annY[i], z: 10,
    style: {text: '{t|τ} =' + tauValues[i], fill: '#111', font: '20px ' + SERIF, verticalAlign: 'middle',
      rich: {t: {fontStyle: 'italic', fontFamily: SERIF, fontSize: 20, fill: '#111'}}}
  });
  graphic.push({
    type: 'text', x: annX[i], y: annY[i] + 22, z: 10,
    style: {text: 'Interval :' + intervalValues[i], fill: '#111', font: '20px ' + SERIF, verticalAlign: 'middle'}
  });
}
legendPanels.forEach(i => {
  legend.push({
    show: true, orient: 'vertical', left: legPos[i][0], top: legPos[i][1],
    data: [{name: 'data'}, {name: 'fitted curve', itemStyle: {opacity: 0, color: 'rgba(0,0,0,0)', borderWidth: 0}}],
    itemWidth: 42, itemHeight: 5, itemGap: 2,
    padding: [5, 23, 4, 6], borderColor: '#333', borderWidth: 1, backgroundColor: '#fff',
    selectedMode: false, z: 20,
    textStyle: {fontFamily: SANS, fontSize: 17, color: '#000', lineHeight: 20}
  });
});

const chart = echarts.init(document.getElementById('c'), null, {renderer: 'canvas'});
chart.setOption({
  animation: false, backgroundColor: '#fff',
  grid, xAxis, yAxis, series, legend, graphic
});
</script>
</body></html>
